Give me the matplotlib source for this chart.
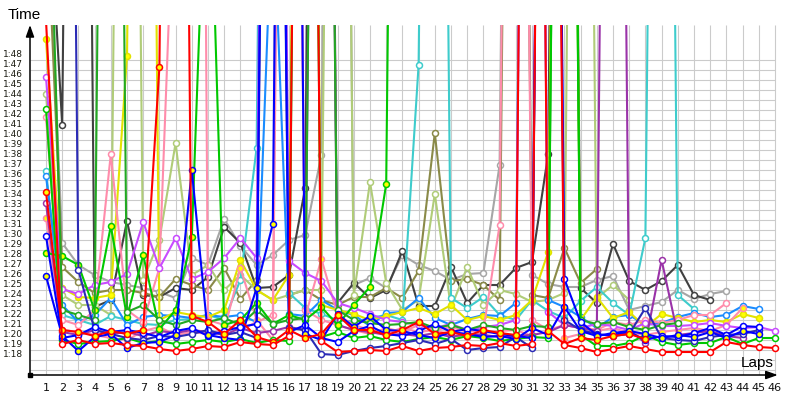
import matplotlib
matplotlib.use("Agg")

import matplotlib.pyplot as plt

# ── Lap times in seconds, one list per driver (lap 1 first) ───────────
red_a = [112.0, 79.6, 80.0, 79.6, 79.7, 79.5, 79.4, 79.1, 78.9, 79.1,
         79.4, 79.3, 79.8, 79.6, 79.5, 80.4, 250.0, 79.9, 78.8, 78.9,
         79.0, 78.9, 79.4, 78.9, 79.2, 79.3, 79.5, 79.4, 79.7, 79.4,
         79.6, 245.0, 79.5, 79.2, 78.8, 79.1, 79.4, 79.1, 78.8, 78.8,
         78.8, 78.8, 79.8, 79.5, 79.3, 79.2]
red_b = [94.8, 81.0, 80.8, 80.4, 80.9, 80.6, 81.0, 107.3, 260.0, 82.4,
         81.8, 80.6, 82.0, 80.3, 79.8, 81.0, 80.2, 80.6, 82.5, 81.0,
         81.0, 80.5, 81.0, 81.8, 80.6, 80.8, 80.4, 81.0, 80.7, 80.5,
         255.0, 80.9, 79.6, 80.2, 80.0, 80.4, 80.6, 80.1]
blue_w = [90.4, 80.2, 80.5, 81.3, 80.8, 81.0, 80.7, 80.3, 80.9, 81.2,
          80.4, 80.9, 81.3, 81.6, 240.0, 80.8, 81.5, 80.2, 79.8, 80.9,
          81.4, 80.6, 80.4, 80.9, 81.6, 80.8, 81.1, 80.9, 80.6, 80.4,
          80.2, 250.0, 86.1, 81.8, 80.5, 80.5, 80.8, 80.0, 80.4, 80.3,
          80.7, 81.2, 80.5, 81.4, 81.3]
blue_y = [86.4, 80.4, 78.9, 80.3, 80.6, 79.2, 79.7, 79.8, 80.5, 97.0,
          80.5, 80.2, 80.0, 85.2, 91.6, 260.0, 80.6, 80.0, 82.6, 81.3,
          82.4, 81.0, 80.9, 80.5, 80.2, 80.8, 80.6, 80.3, 80.4, 80.1,
          81.2, 80.5, 83.3, 80.9, 80.4, 80.7, 80.9, 80.6, 80.2, 80.5,
          80.3, 80.8, 80.2, 80.9, 80.6]
navy = [250.0, 250.0, 87.0, 81.0, 80.6, 80.2, 80.0, 80.4, 80.3, 80.6,
        81.0, 80.5, 80.8, 80.2, 230.0, 81.2, 81.0, 78.6, 78.5, 78.9,
        79.2, 79.4, 79.7, 80.0, 79.6, 80.1, 79.0, 79.2, 79.3, 80.3,
        79.2, 255.0, 82.0, 81.0, 80.6, 80.4, 80.6, 83.2, 80.2, 80.0,
        79.9, 80.3, 80.5, 80.6, 81.0]
dark_gray = [130.0, 101.5, 260.0, 83.3, 84.0, 91.9, 84.5, 84.3, 85.2, 85.0,
             86.3, 91.3, 89.7, 85.2, 85.3, 86.5, 95.2, 250.0, 83.7, 85.7,
             84.2, 85.0, 88.9, 83.4, 83.4, 87.3, 83.7, 85.5, 85.5, 87.2,
             87.8, 98.6, 250.0, 85.2, 83.7, 89.6, 85.9, 85.0, 85.9, 87.5,
             84.5, 84.0]
gray = [128.0, 89.7, 87.5, 86.5, 85.8, 85.5, 85.2, 84.8, 84.2, 88.2,
        87.5, 92.1, 89.4, 87.5, 88.5, 90.0, 90.5, 98.5, 250.0, 85.5,
        86.2, 85.2, 88.5, 87.5, 86.9, 86.0, 86.6, 86.7, 97.5, 250.0,
        86.5, 85.6, 85.3, 85.3, 86.0, 86.4, 83.0, 83.4, 83.8, 85.0,
        84.1, 84.6, 84.9]
olive = [125.0, 87.3, 85.8, 84.7, 85.0, 85.0, 84.7, 84.3, 86.1, 85.5,
         85.0, 87.2, 84.1, 86.0, 250.0, 84.5, 85.0, 84.0, 83.5, 84.3,
         84.3, 85.2, 84.2, 86.9, 100.7, 85.9, 86.1, 85.5, 84.0, 250.0,
         84.5, 84.2, 89.2, 85.7, 87.1]
light_olive = [104.6, 84.5, 83.5, 83.5, 82.5, 250.0, 86.0, 90.0, 99.7, 86.5,
               87.5, 85.0, 86.5, 85.0, 84.0, 84.5, 85.0, 85.0, 250.0, 84.5,
               95.8, 85.7, 83.0, 84.0, 94.6, 83.2, 87.3, 83.5, 85.0, 84.6,
               83.8, 84.0, 84.7, 250.0, 84.2, 85.5, 84.0]
cyan = [96.9, 82.5, 82.0, 81.5, 82.4, 82.0, 81.6, 81.5, 82.0, 82.1,
        82.5, 82.0, 86.0, 99.2, 250.0, 84.7, 83.2, 82.6, 82.0, 81.8,
        82.2, 82.5, 82.0, 107.5, 250.0, 84.2, 83.2, 84.3, 82.5, 82.0,
        84.0, 82.9, 82.2, 83.9, 85.3, 83.7, 82.5, 90.2, 250.0, 84.5,
        83.1]
sky = [96.4, 83.5, 81.8, 82.5, 84.2, 81.5, 82.3, 82.5, 82.4, 82.2,
       82.5, 82.3, 82.5, 81.8, 125.0, 82.6, 82.4, 84.0, 83.0, 82.5,
       81.4, 82.7, 82.8, 84.2, 82.2, 81.5, 82.1, 82.5, 82.4, 83.7,
       250.0, 84.0, 83.3, 82.3, 81.2, 82.3, 82.5, 81.5, 81.7, 82.3,
       82.7, 82.3, 82.5, 83.4, 83.1]
yellow = [110.1, 85.2, 84.3, 84.2, 84.5, 108.4, 250.0, 82.0, 82.8, 82.5,
          82.3, 83.0, 88.0, 85.0, 84.0, 86.5, 250.0, 83.5, 83.0, 82.6,
          82.0, 82.4, 82.8, 83.2, 82.6, 83.5, 82.0, 82.4, 82.0, 82.5,
          84.0, 88.8, 250.0, 82.0, 84.3, 82.2, 82.8, 81.3, 82.6, 82.2,
          81.8, 82.0, 81.8, 82.6, 82.2]
pink_w = [102.3, 82.0, 81.5, 83.0, 98.6, 83.0, 81.8, 87.2, 130.0, 320.0,
          82.0, 81.5, 81.0, 81.8, 82.5, 250.0, 83.0, 82.0, 81.5, 81.0,
          80.6, 81.2, 80.8, 81.5, 81.0, 81.3, 80.8, 81.0, 91.5, 250.0,
          82.0, 81.0, 81.5, 81.3, 81.0, 81.8, 81.5, 82.0, 81.7, 82.0,
          82.5, 82.5, 83.7]
pink_y = [92.2, 81.0, 80.8, 80.5, 80.2, 80.0, 80.9, 81.3, 80.5, 80.8,
          80.6, 81.0, 87.2, 82.0, 80.0, 240.0, 82.3, 88.1, 82.5, 81.5,
          81.0, 80.7, 81.2, 80.8, 81.0, 80.5, 80.3, 80.7, 80.9, 81.0,
          80.4, 250.0, 80.2, 80.6, 80.9, 81.2, 80.7, 80.5, 80.8, 81.0,
          81.2, 80.9, 81.5, 83.2]
violet = [106.3, 85.1, 84.6, 85.5, 85.8, 86.6, 91.8, 87.2, 90.2, 86.1,
          86.8, 88.2, 90.2, 88.2, 250.0, 87.9, 86.7, 85.9, 83.7, 83.2,
          82.6, 82.0, 81.8, 81.5, 81.2, 81.6, 81.0, 81.3, 81.5, 82.0,
          250.0, 82.8, 81.5, 81.2, 81.6, 81.4, 81.0, 81.7, 81.4, 81.4,
          81.5, 81.7, 81.4, 81.2, 81.3, 80.9]
purple = [93.7, 80.8, 80.5, 81.0, 80.6, 80.8, 80.4, 80.9, 80.7, 81.0,
          80.8, 80.5, 81.2, 80.7, 80.9, 81.3, 81.0, 250.0, 81.5, 81.0,
          80.8, 80.5, 80.6, 80.4, 80.7, 80.3, 80.6, 80.5, 80.3, 80.4,
          80.5, 80.8, 81.5, 81.2, 80.9, 250.0, 81.0, 79.7, 88.0, 80.5,
          80.7, 80.9, 80.4, 80.2]
green_y = [88.7, 88.4, 87.5, 83.0, 91.4, 82.3, 88.5, 81.1, 83.0, 90.3,
           135.0, 81.5, 82.0, 83.7, 81.6, 82.5, 82.0, 83.3, 81.5, 83.5,
           85.3, 95.6, 250.0]
green_w = [103.1, 80.0, 79.6, 79.8, 79.9, 80.2, 79.7, 79.9, 79.6, 79.8,
           80.0, 79.8, 80.1, 79.7, 80.0, 79.9, 250.0, 80.3, 80.8, 80.2,
           80.4, 80.0, 79.8, 80.1, 80.3, 80.0, 80.4, 80.2, 79.9, 80.1,
           80.3, 80.2, 250.0, 80.5, 79.4, 79.4, 79.7, 80.5, 79.8, 79.5,
           79.7, 79.7, 80.3, 79.6, 80.2, 80.2]
dgreen = [140.0, 83.0, 82.5, 82.0, 250.0, 82.8, 83.5, 82.0, 81.5, 82.0,
          81.8, 82.2, 81.5, 83.0, 81.6, 82.0, 82.2, 240.0, 83.0, 82.0,
          81.7, 81.5, 81.6, 81.8, 81.2, 81.5, 81.0, 81.5, 81.2, 81.0,
          81.4, 81.3, 250.0, 82.0, 81.6, 81.8, 81.3, 81.0, 81.5, 81.7]

N_LAPS = 46
Y_LABEL_SECONDS = list(range(78, 109))

# (values, line colour, marker fill) – drawn in this order
DRIVERS = [
    (gray, "#a6a6a6", "white"),
    (dark_gray, "#404040", "white"),
    (olive, "#8a8a48", "white"),
    (light_olive, "#b0cc78", "white"),
    (cyan, "#3ecccc", "white"),
    (sky, "#1a8cff", "white"),
    (yellow, "#e2e200", "#ffff00"),
    (pink_w, "#ff8cab", "white"),
    (pink_y, "#ff8cab", "#ffff00"),
    (violet, "#c84bff", "white"),
    (purple, "#9a32a8", "white"),
    (green_y, "#00c800", "#ffff00"),
    (dgreen, "#22a822", "white"),
    (green_w, "#00c800", "white"),
    (navy, "#2b2bb5", "white"),
    (blue_w, "#0000ff", "white"),
    (blue_y, "#0000ff", "#ffff00"),
    (red_b, "#ff0000", "#ffff00"),
    (red_a, "#ff0000", "white"),
]

# ── Figure ────────────────────────────────────────────────────────────
W, H = 800, 400
fig = plt.figure(figsize=(W / 100, H / 100), dpi=100)
ax_left, ax_right, ax_top, ax_bottom = 30, 780, 25, 375
ax = fig.add_axes([ax_left / W, 1 - ax_bottom / H,
                   (ax_right - ax_left) / W, (ax_bottom - ax_top) / H])

lap_px = 16.2
x0 = 1 + (ax_left - 46) / lap_px
x1 = 1 + (ax_right - 46) / lap_px
y0, y1 = 76.5, 111.5
ax.set_xlim(x0, x1)
ax.set_ylim(y0, y1)
for s in ax.spines.values():
    s.set_visible(False)
ax.set_xticks([])
ax.set_yticks([])
ax.patch.set_alpha(0)

# grid
grid_c = "#cbcbcb"
ax.vlines(range(1, N_LAPS + 1), y0, y1, color=grid_c, lw=0.8, zorder=0)
ax.hlines(range(77, 109), x0, N_LAPS, color=grid_c, lw=0.8, zorder=0)

# driver lines
for values, color, fill in DRIVERS:
    laps = range(1, len(values) + 1)
    ax.plot(laps, values, color=color, lw=1.5, marker="o", ms=4.3,
            mfc=fill, mec=color, mew=1.1, zorder=2)

# axes with arrows
ax.annotate("", xy=(0, 1), xytext=(0, 0), xycoords="axes fraction",
            arrowprops=dict(arrowstyle="-|>,head_length=0.7,head_width=0.25",
                            color="black", lw=1.1, shrinkA=0, shrinkB=0),
            annotation_clip=False, zorder=5)
ax.annotate("", xy=(0.997, 0), xytext=(0, 0), xycoords="axes fraction",
            arrowprops=dict(arrowstyle="-|>,head_length=0.7,head_width=0.25",
                            color="black", lw=1.1, shrinkA=0, shrinkB=0),
            annotation_clip=False, zorder=5)
ax.plot([0], [0], marker="s", ms=3, color="black", transform=ax.transAxes,
        clip_on=False, zorder=6)

# tick labels
for lap in range(1, N_LAPS + 1):
    ax.text(lap, -13 / 350, str(lap), transform=ax.get_xaxis_transform(),
            ha="center", va="center", fontsize=8, color="#111111")
for sec in Y_LABEL_SECONDS:
    ax.text(-7 / 750, sec + 0.5, f"{sec // 60}:{sec % 60:02d}",
            transform=ax.get_yaxis_transform(), ha="right", va="center",
            fontsize=6.5, color="#1a1a10")

fig.text(8 / W, 1 - 15 / H, "Time", ha="left", va="center",
         fontsize=11, family="Liberation Sans")
fig.text(774 / W, 1 - 363 / H, "Laps", ha="right", va="center",
         fontsize=11, family="Liberation Sans")

fig.savefig("out.png", dpi=100)
